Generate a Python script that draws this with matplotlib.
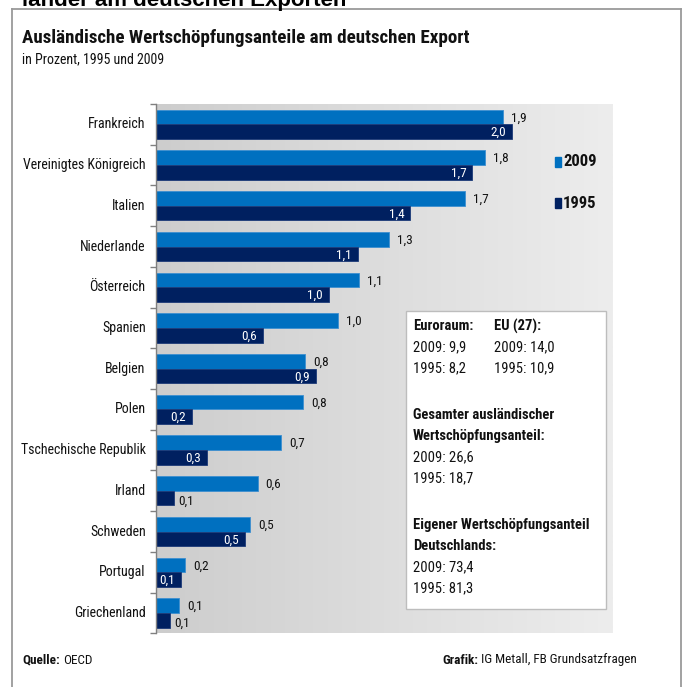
import numpy as np
import matplotlib
matplotlib.use('Agg')
import matplotlib.pyplot as plt
from matplotlib import font_manager as fm
from matplotlib.patches import Rectangle
from matplotlib.lines import Line2D
from matplotlib.colors import LinearSegmentedColormap

# data
laender = ['Frankreich', 'Vereinigtes Königreich', 'Italien', 'Niederlande',
           'Österreich', 'Spanien', 'Belgien', 'Polen', 'Tschechische Republik',
           'Irland', 'Schweden', 'Portugal', 'Griechenland']
werte_2009 = [1.91, 1.81, 1.70, 1.28, 1.12, 1.00, 0.82, 0.81, 0.69, 0.56, 0.52, 0.16, 0.13]
werte_1995 = [1.96, 1.74, 1.40, 1.11, 0.95, 0.59, 0.88, 0.20, 0.28, 0.10, 0.49, 0.14, 0.08]
labels_2009 = ['1,9', '1,8', '1,7', '1,3', '1,1', '1,0', '0,8', '0,8', '0,7', '0,6', '0,5', '0,2', '0,1']
labels_1995 = ['2,0', '1,7', '1,4', '1,1', '1,0', '0,6', '0,9', '0,2', '0,3', '0,1', '0,5', '0,1', '0,1']

euroraum = ['2009: 9,9', '1995: 8,2']
eu27 = ['2009: 14,0', '1995: 10,9']
gesamt = ['2009: 26,6', '1995: 18,7']
eigen = ['2009: 73,4', '1995: 81,3']

C2009 = '#0070c0'
C1995 = '#002060'
TXT = '#111111'

# font: prefer a narrow face like the original
names = {f.name for f in fm.fontManager.ttflist}
narrow = 'Liberation Sans'
for cand in ['Liberation Sans Narrow', 'Arial Narrow', 'Roboto Condensed', 'DejaVu Sans Condensed']:
    if cand in names:
        narrow = cand
        break
plt.rcParams['font.family'] = [narrow, 'DejaVu Sans']

W, H = 686, 687
fig = plt.figure(figsize=(W / 100, H / 100), dpi=100)


def fx(px):
    return px / W


def fy(py):
    return 1 - py / H


# frame around the graphic
for xs, ys in [([12, 12], [9, 700]), ([12, 681], [9, 9]), ([681, 681], [9, 700])]:
    fig.add_artist(Line2D([fx(x) for x in xs], [fy(y) for y in ys],
                          transform=fig.transFigure, color='#9a9a9a', lw=1.3))

# cut-off heading above the frame (only its lower part is visible, as in the original)
fig.text(fx(22), fy(6), 'länder am deutschen Exporten', fontsize=16, fontweight='bold',
         family=['Liberation Sans', 'DejaVu Sans'], va='baseline', color='black')

fig.text(fx(22), fy(38), 'Ausländische Wertschöpfungsanteile am deutschen Export',
         fontsize=13.7, fontweight='bold', va='center', color=TXT)
fig.text(fx(22), fy(59), 'in Prozent, 1995 und 2009', fontsize=10, va='center', color=TXT)

# plot area
ax = fig.add_axes([fx(155.7), fy(633.3), (612.3 - 155.7) / W, (633.3 - 104) / H])
xmax = 2.51
grad = LinearSegmentedColormap.from_list('grau', ['#cdcdcd', '#ededed'])
ax.imshow(np.linspace(0, 1, 256).reshape(1, -1), cmap=grad, aspect='auto',
          extent=[0, xmax, 12.5, -0.5], zorder=0)

y = np.arange(len(laender))
h = 0.36
ax.barh(y - h / 2, werte_2009, height=h, color=C2009, edgecolor='#3d8fd0', lw=0.6, zorder=2)
ax.barh(y + h / 2, werte_1995, height=h, color=C1995, edgecolor='#1c3a78', lw=0.6, zorder=2)

ax.set_xlim(0, xmax)
ax.set_ylim(12.5, -0.5)
ax.set_xticks([])
ax.set_yticks(np.arange(-0.5, len(laender) + 0.5, 1))
ax.set_yticklabels([])
ax.tick_params(axis='y', direction='out', length=4, color='#808080', width=1)
for s in ['top', 'right', 'bottom']:
    ax.spines[s].set_visible(False)
ax.spines['left'].set_color('#808080')
ax.spines['left'].set_linewidth(1)

for i, name in enumerate(laender):
    ax.annotate(name, xy=(0, i), xycoords=('axes fraction', 'data'), xytext=(-10, 0),
                textcoords='offset pixels', ha='right', va='center', fontsize=10, color=TXT)
    ax.annotate(labels_2009[i], xy=(werte_2009[i], i - h / 2), xytext=(8, -1),
                textcoords='offset pixels', ha='left', va='center', fontsize=9.5, color=TXT)
    if werte_1995[i] >= 0.12:
        ax.annotate(labels_1995[i], xy=(werte_1995[i], i + h / 2), xytext=(-6, -1),
                    textcoords='offset pixels', ha='right', va='center', fontsize=9.5,
                    color='white')
    else:
        ax.annotate(labels_1995[i], xy=(werte_1995[i], i + h / 2), xytext=(4, -3),
                    textcoords='offset pixels', ha='left', va='center', fontsize=9.5, color=TXT)

# legend
for yy, col, txt in [(161.5, C2009, '2009'), (203, C1995, '1995')]:
    fig.add_artist(Rectangle((fx(555), fy(yy + 5)), 6 / W, 10 / H, transform=fig.transFigure,
                             color=col, zorder=5))
    fig.text(fx(563), fy(yy), txt, fontsize=12, fontweight='bold', va='center', color=TXT,
             zorder=6)

# info box
fig.add_artist(Rectangle((fx(405.5), fy(608.5)), (606 - 405.5) / W, (608.5 - 311) / H,
                         transform=fig.transFigure, facecolor='white', edgecolor='#bdbdbd',
                         lw=1, zorder=5))
bx = fx(413)
box_lines = [
    (326, 'Euroraum:', 'bold'), (347, euroraum[0], 'normal'), (368, euroraum[1], 'normal'),
    (415, 'Gesamter ausländischer', 'bold'), (436, 'Wertschöpfungsanteil:', 'bold'),
    (457, gesamt[0], 'normal'), (478, gesamt[1], 'normal'),
    (525, 'Eigener Wertschöpfungsanteil', 'bold'), (546, 'Deutschlands:', 'bold'),
    (567, eigen[0], 'normal'), (588, eigen[1], 'normal'),
]
for yy, txt, wt in box_lines:
    fig.text(bx, fy(yy), txt, fontsize=10.5, fontweight=wt, va='center', color=TXT, zorder=6)
for yy, txt, wt in [(326, 'EU (27):', 'bold'), (347, eu27[0], 'normal'), (368, eu27[1], 'normal')]:
    fig.text(fx(494), fy(yy), txt, fontsize=10.5, fontweight=wt, va='center', color=TXT, zorder=6)

# footer
r = fig.canvas.get_renderer()
t1 = fig.text(fx(22), fy(660), 'Quelle:', fontsize=9.5, fontweight='bold', va='center', color=TXT)
x1 = t1.get_window_extent(r).x1
fig.text(x1 / W + fx(3), fy(660), 'OECD', fontsize=9.5, va='center', color=TXT)
t2 = fig.text(fx(637), fy(660), 'IG Metall, FB Grundsatzfragen', fontsize=9.5, ha='right',
              va='center', color=TXT)
x0 = t2.get_window_extent(r).x0
fig.text(x0 / W - fx(3), fy(660), 'Grafik:', fontsize=9.5, fontweight='bold', ha='right',
         va='center', color=TXT)

fig.savefig('out.png', dpi=100)
